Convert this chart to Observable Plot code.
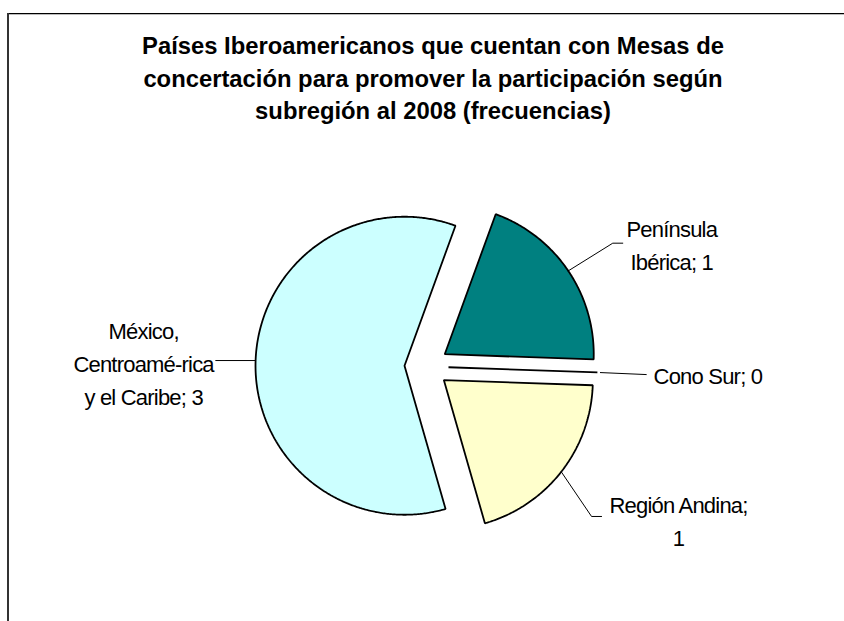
<!DOCTYPE html>
<html>
<head>
<meta charset="utf-8">
<script src="https://cdn.jsdelivr.net/npm/d3@7"></script>
<script src="https://cdn.jsdelivr.net/npm/@observablehq/plot@0.6"></script>
<style>
  html, body { margin: 0; padding: 0; background: #fff; overflow: hidden; }
  #wrap { position: relative; width: 844px; height: 621px; background: #fff; }
  #frameTop { position: absolute; left: 7px; right: 0; top: 13px; height: 0; border-top: 1px solid #000; box-shadow: 0 1px 0 #bbb; }
  #frameLeft { position: absolute; left: 7px; top: 13px; bottom: 0; width: 0; border-left: 2px solid #333; }
  #chart { position: absolute; left: 0; top: 0; }
  #title { position: absolute; left: 0; top: 30px; width: 866px; text-align: center;
           font-family: "Liberation Sans", Arial, sans-serif; font-weight: bold; font-size: 23.8px;
           line-height: 32.5px; color: #000; }
</style>
</head>
<body>
<div id="wrap">
  <div id="chart"></div>
  <div id="title">Países Iberoamericanos que cuentan con Mesas de<br>concertación para promover la participación según<br>subregión al 2008 (frecuencias)</div>
  <div id="frameTop"></div>
  <div id="frameLeft"></div>
</div>
<script>
// ---- data ----
const categories = ["Península\nIbérica", "Cono Sur", "Región Andina", "México,\nCentroamé-rica\ny el Caribe"];
const values = [1, 0, 1, 3];
const valueSeparators = ["; ", "; ", ";\n", "; "];
const sliceColors = ["#008080", "#FFFFFF", "#FFFFCC", "#CCFFFF"];

// ---- layout (pixels) ----
const W = 844, H = 621;
const cx = 426, cy = 366;     // pie centre
const R = 149;                // radius
const explode = 22;           // explosion distance
const startDeg = 20;          // first slice angle (clockwise from 12 o'clock)
// leader: [elbow dx, elbow dy, horizontal tail, label dx, label dy, start gap]
const leaderLayout = [
  [44.5, -27.7, 10, 49, 0, 0],
  [46, 2, 0, 61.5, -1, 3],
  [30.3, 44.7, 10, 77, 2, 0],
  [-40, 0, 0, -72, 1, 0]
];

const arcs = d3.pie().sort(null)
  .startAngle(startDeg * Math.PI / 180)
  .endAngle(startDeg * Math.PI / 180 + 2 * Math.PI)(values);

const slices = arcs.map((a, i) => {
  const m = (a.startAngle + a.endAngle) / 2;
  const ax = explode * Math.sin(m), ay = explode * Math.cos(m);
  const pts = [{x: ax, y: ay}];
  const n = Math.max(1, Math.ceil((a.endAngle - a.startAngle) / (Math.PI / 360)));
  for (let k = 0; k <= n; k++) {
    const t = a.startAngle + (a.endAngle - a.startAngle) * k / n;
    pts.push({x: ax + R * Math.sin(t), y: ay + R * Math.cos(t)});
  }
  return {pts, color: sliceColors[i], m, ax, ay};
});

const leaders = [];
const labels = [];
slices.forEach((s, i) => {
  const [ex, ey, tail, lx, ly, gap] = leaderLayout[i];
  const sx = s.ax + (R + gap) * Math.sin(s.m), sy = s.ay + (R + gap) * Math.cos(s.m);
  const bx = sx + ex, by = sy - ey;
  const tx = bx + tail, ty = by;
  leaders.push([{x: sx, y: sy}, {x: bx, y: by}, {x: tx, y: ty}]);
  labels.push({x: tx + lx, y: ty - ly, text: categories[i] + valueSeparators[i] + values[i]});
});

const marks = [];
slices.forEach(s => {
  marks.push(Plot.line(s.pts, {x: "x", y: "y", fill: s.color, stroke: "#000", strokeWidth: 1.8, curve: "linear-closed", strokeLinejoin: "miter"}));
});
leaders.forEach(l => {
  marks.push(Plot.line(l, {x: "x", y: "y", stroke: "#000", strokeWidth: 1}));
});
marks.push(Plot.text(labels, {x: "x", y: "y", text: "text", fontSize: 22, lineHeight: 33 / 22,
  textAnchor: "middle", lineAnchor: "middle", fill: "#000"}));

const chart = Plot.plot({
  width: W, height: H, margin: 0,
  x: {domain: [-cx, W - cx], range: [0, W], axis: null},
  y: {domain: [-(H - cy), cy], range: [H, 0], axis: null},
  style: {fontFamily: "'Liberation Sans', Arial, sans-serif", fontSize: "22px", letterSpacing: "-0.8px", background: "transparent", overflow: "visible"},
  marks
});
document.getElementById("chart").appendChild(chart);
</script>
</body>
</html>
